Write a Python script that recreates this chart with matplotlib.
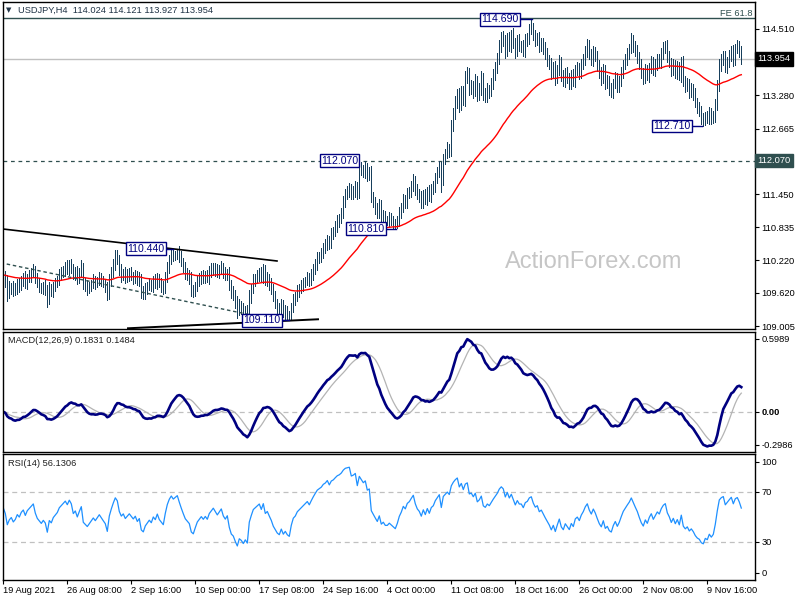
import numpy as np
import pandas as pd
import matplotlib
matplotlib.use("Agg")
import matplotlib.pyplot as plt
import matplotlib.transforms as mtransforms

plt.rcParams['font.family'] = ['Liberation Sans', 'DejaVu Sans']

# USDJPY H4 closes, 19 Aug 2021 00:00 onwards (one value per bar)
close_aug = [109.95, 109.85, 109.6, 109.7, 109.75, 109.65, 109.7, 109.8, 109.75,
             109.85, 109.9, 109.8, 109.9, 109.95, 110.0, 110.05,
             109.9, 109.8, 109.75, 109.7, 109.75, 109.7, 109.5,
             109.7, 109.65, 109.75, 109.8, 109.85,
             109.95, 110.0, 110.05, 110.1, 110.05, 110.15, 110.1,
             109.95, 110.0, 109.9, 110.0, 110.1,
             109.8, 109.75, 109.7, 109.75, 109.8,
             109.85, 109.8, 109.85, 109.9, 109.85, 109.8, 109.75, 109.6,
             109.85, 110.0, 110.15, 110.3, 110.25,
             110.05, 109.95, 110.0, 109.9, 109.95, 110.0, 109.95, 109.9, 109.95, 109.85, 109.9]
close_sep1 = [109.65, 109.6, 109.7, 109.75,
              109.8, 109.75, 109.85, 109.8, 109.9, 109.8, 109.75, 109.7,
              109.9, 110.1, 110.25, 110.35, 110.3, 110.35, 110.4, 110.3,
              110.2, 110.1, 110.0, 109.95, 109.9,
              109.7, 109.65, 109.75,
              109.85, 109.9, 109.95, 109.9, 109.95, 109.9, 110.0, 110.05, 110.1,
              110.05, 110.0, 110.05, 110.1, 110.0, 109.95, 110.0,
              109.8, 109.65, 109.6,
              109.45, 109.3, 109.4, 109.35, 109.25, 109.3, 109.2,
              109.55, 109.7,
              109.85, 109.9, 109.95, 110.0, 109.9, 110.05, 109.85, 109.9, 109.8]
close_sep2 = [109.7, 109.55, 109.45, 109.35, 109.3,
              109.4, 109.25, 109.3, 109.2, 109.15,
              109.35, 109.5, 109.55, 109.65, 109.7, 109.75,
              109.8, 109.85, 109.9, 109.85,
              109.95, 110.05, 110.15, 110.25, 110.3,
              110.35, 110.45, 110.5, 110.6, 110.55, 110.7, 110.75,
              110.85, 110.95, 111.0, 111.1,
              111.3, 111.45, 111.5, 111.55, 111.45, 111.5, 111.6, 111.45,
              111.95,
              111.9, 111.85, 111.95, 111.8, 111.85,
              111.4,
              111.3, 111.2, 111.1, 111.25, 111.0, 111.05, 110.95,
              110.95, 111.0, 110.95, 110.9, 110.85, 110.95,
              111.1, 111.2, 111.35, 111.3, 111.45,
              111.5, 111.6, 111.7, 111.55, 111.45,
              111.4, 111.3, 111.45, 111.35, 111.5, 111.4, 111.55,
              111.6, 111.75, 111.85, 111.95, 111.7]
close_oct = [112.1, 112.2, 112.3, 112.25,
             112.7, 112.95, 113.15,
             113.3, 113.1, 113.35, 113.2,
             113.6, 113.7, 113.4,
             113.45, 113.35, 113.55, 113.3, 113.4,
             113.6, 113.3, 113.25, 113.4, 113.35,
             113.5, 113.65, 113.8,
             113.95, 114.2, 114.35,
             114.3, 114.1, 114.35, 114.2, 114.4, 114.25, 114.1, 114.3, 114.2,
             114.2, 114.1, 114.3, 114.35, 114.5, 114.55,
             114.4, 114.3, 114.35, 114.2, 114.25, 114.15,
             114.05, 113.95, 113.85, 113.7, 113.8,
             113.6, 113.75, 113.9, 113.65, 113.55,
             113.7, 113.6, 113.5, 113.65, 113.55, 113.75, 113.8, 113.7,
             113.85, 113.95, 114.1, 114.2, 114.05, 113.95, 114.1, 114.0, 113.85]
close_nov = [113.7, 113.6, 113.75, 113.5, 113.55, 113.4, 113.35, 113.5, 113.6, 113.45, 113.55,
             113.7, 113.85, 113.95, 114.05,
             114.15, 114.3, 114.2, 114.1, 114.0,
             113.85, 113.7, 113.6, 113.75, 113.65,
             113.8, 113.9, 113.75, 113.85, 113.95, 113.9,
             114.05, 114.15, 114.2, 114.0,
             113.9, 113.75, 113.85, 113.7, 113.8, 113.65, 113.9,
             113.55, 113.45, 113.5, 113.35, 113.4,
             113.3, 113.15, 113.05, 113.0,
             112.85, 112.8, 112.9, 112.85, 112.95, 112.85, 112.9,
             113.1, 113.45,
             113.85, 113.95, 114.0, 113.8, 113.9,
             114.0, 114.1, 113.95, 114.15, 114.2, 114.1,
             113.954]

# wicks above / below the bar body, in pips
wick_up = [12, 8, 10, 14, 6, 9, 11, 7, 10, 8,   9, 12, 6, 10, 8, 11, 7, 9, 10, 6,
           8, 10, 6, 12, 9, 7, 10, 8, 11, 9,    7, 10, 12, 8, 9, 6, 10, 11, 8, 12,
           7, 9, 10, 8, 6, 11, 9, 7, 10, 8,     9, 6, 8, 12, 10, 9, 11, 12, 8, 10,
           7, 9, 11, 8, 10, 6, 9, 8, 10, 7,     9, 11, 8, 10, 6, 9, 12, 8, 7, 10,
           9, 11, 10, 8, 9, 6, 4, 3, 8, 9,      7, 10, 8, 9, 11, 6, 8, 10, 9, 7,
           10, 8, 9, 11, 12, 8, 7, 10, 9, 11,   8, 9, 7, 10, 6, 9, 8, 11, 10, 7,
           9, 8, 10, 12, 9, 11, 7, 10, 8, 9,    11, 8, 10, 7, 9, 8, 10, 6, 9, 11,
           8, 10, 7, 9, 8, 10, 9, 11, 8, 10,    9, 7, 10, 8, 11, 10, 9, 12, 8, 10,
           9, 11, 10, 8, 12, 9, 10, 11, 8, 10,  12, 9, 10, 11, 8, 10, 9, 8, 12, 10,
           9, 11, 8, 10, 12, 9, 10, 8, 11, 9,   10, 8, 9, 11, 10, 9, 8, 10, 11, 9,
           10, 8, 11, 9, 10, 12, 8, 9, 10, 11,  8, 10, 9, 11, 8, 10, 9, 11, 12, 10,
           10, 9, 11, 8, 12, 10, 11, 9, 12, 10, 11, 13, 10, 9, 11, 10, 12, 9, 10, 14,
           9, 11, 10, 8, 10, 11, 9, 12, 10, 11, 12, 10, 9, 11, 10, 12, 9, 10, 11, 9,
           10, 12, 9, 11, 14, 8, 10, 9, 11, 10, 9, 11, 10, 8, 12, 9, 11, 10, 12, 9,
           10, 8, 11, 9, 10, 12, 9, 10, 8, 11,  10, 9, 12, 11, 9, 10, 8, 11, 9, 10,
           11, 9, 10, 8, 10, 9, 11, 10, 9, 10,  8, 10, 11, 9, 13, 10, 9, 11, 8, 10,
           9, 11, 10, 8, 10, 9, 11, 10, 9, 10,  12, 9, 10, 11, 8, 10, 9, 11, 10, 9,
           10, 8, 11, 9, 10, 9, 11, 8, 10, 9,   10, 8, 9, 11, 10, 9, 12, 11, 10, 9,
           11, 10, 9, 12, 10, 11, 9, 10, 8, 9]
wick_dn = [10, 12, 14, 8, 11, 9, 7, 10, 12, 8,  11, 9, 10, 7, 12, 9, 10, 8, 11, 9,
           10, 12, 15, 9, 8, 11, 10, 7, 9, 10,  8, 11, 9, 10, 12, 8, 9, 11, 10, 7,
           11, 9, 12, 8, 10, 9, 11, 8, 9, 10,   8, 11, 12, 9, 10, 8, 11, 9, 10, 12,
           9, 10, 8, 11, 9, 12, 10, 8, 11, 13,  10, 9, 11, 8, 10, 12, 9, 10, 8, 11,
           10, 9, 8, 11, 10, 9, 8, 10, 11, 9,   10, 12, 9, 11, 14, 10, 8, 9, 10, 11,
           9, 10, 8, 11, 9, 10, 12, 8, 10, 9,   11, 9, 10, 12, 13, 11, 12, 15, 10, 12,
           12, 10, 6, 9, 11, 8, 10, 9, 11, 8,   10, 9, 11, 12, 10, 9, 11, 10, 12, 9,
           8, 12, 8, 4, 4, 9, 10, 8, 11, 9,     10, 8, 9, 11, 8, 10, 9, 11, 8, 10,
           9, 10, 8, 11, 10, 9, 8, 10, 11, 9,   10, 8, 9, 11, 10, 9, 11, 10, 8, 10,
           9, 11, 10, 8, 10, 9, 11, 10, 9, 11,  10, 12, 8, 9, 7, 8, 4, 3, 9, 10,
           9, 11, 10, 8, 10, 9, 11, 10, 9, 11,  10, 9, 11, 8, 10, 9, 11, 10, 9, 22,
           9, 10, 8, 11, 10, 9, 11, 10, 12, 9,  10, 11, 9, 12, 10, 11, 9, 12, 10, 11,
           11, 9, 10, 12, 9, 10, 8, 11, 9, 12,  11, 12, 10, 9, 11, 10, 12, 9, 10, 11,
           9, 11, 10, 12, 9, 10, 11, 9, 12, 10, 11, 10, 12, 9, 11, 10, 12, 9, 10, 11,
           10, 12, 9, 11, 10, 9, 11, 10, 12, 9, 9, 10, 11, 9, 10, 12, 9, 11, 10, 12,
           10, 11, 9, 12, 10, 11, 9, 10, 11, 9, 10, 9, 11, 10, 9, 11, 10, 12, 9, 10,
           11, 10, 9, 12, 10, 9, 11, 10, 9, 11, 10, 9, 11, 10, 12, 9, 10, 11, 9, 12,
           10, 11, 9, 12, 10, 11, 9, 10, 11, 10, 9, 7, 9, 10, 11, 8, 12, 10, 9, 11,
           10, 9, 11, 10, 9, 12, 10, 9, 11, 10]

# RSI state carried in from before the first bar (average gain / loss per bar)
rsi_prior_gain, rsi_prior_loss = 0.057, 0.043

date_ticks = [0, 32, 64, 96, 128, 160, 192, 224, 256, 288, 320, 352]
date_labels = ['19 Aug 2021', '26 Aug 08:00', '2 Sep 16:00', '10 Sep 00:00', '17 Sep 08:00',
               '24 Sep 16:00', '4 Oct 00:00', '11 Oct 08:00', '18 Oct 16:00', '26 Oct 00:00',
               '2 Nov 08:00', '9 Nov 16:00']
price_ticks = [114.510, 113.280, 112.665, 111.450, 110.835, 110.220, 109.620, 109.005]

# swing labels: value, bar of the swing, bar where the box ends
swing_vals = [114.690, 112.710, 112.070, 110.810, 110.440, 109.110]
swing_bar = [264.2, 349.4, 178.0, 196.4, 85.0, 143.0]
swing_box_end = [258.4, 344.4, 178.0, 191.4, 81.2, 139.4]

# trendlines (bar, price) pairs
trend_upper = ([-0.15, 136.85], [110.803, 110.210])
trend_lower = ([62.35, 157.35], [108.963, 109.130])
trend_dash = ([1.7, 123.35], [110.154, 109.214])
fe_level = 114.705
last_price = 113.954
support = 112.070

closes = np.array(close_aug + close_sep1 + close_sep2 + close_oct + close_nov)
n = len(closes)
idx = np.arange(n)
opens = np.r_[closes[0], closes[:-1]]
highs = np.maximum(opens, closes) + np.array(wick_up[:n]) / 100
lows = np.minimum(opens, closes) - np.array(wick_dn[:n]) / 100

s = pd.Series(closes)
ema55 = s.ewm(span=55, adjust=False).mean()
macd = s.ewm(span=12, adjust=False).mean() - s.ewm(span=26, adjust=False).mean()
signal = macd.rolling(9, min_periods=1).mean()

# Wilder RSI(14)
chg = np.r_[0.0, np.diff(closes)]
avg_g, avg_l = rsi_prior_gain, rsi_prior_loss
rsi = np.empty(n)
for k in range(n):
    avg_g = (avg_g * 13 + max(chg[k], 0)) / 14
    avg_l = (avg_l * 13 + max(-chg[k], 0)) / 14
    rsi[k] = 100 - 100 / (1 + avg_g / avg_l)

bar_col = '#173f5c'
slate = '#2f4f4f'
navy = '#000080'
fs = 6.7

W, H = 800.0, 600.0
fig = plt.figure(figsize=(8, 6), dpi=100)
fig.patch.set_facecolor('white')
left, width = 3 / W, 751.5 / W
ax1 = fig.add_axes([left, 1 - 328.5 / H, width, 326.5 / H])
ax2 = fig.add_axes([left, 1 - 451.7 / H, width, 120 / H])
ax3 = fig.add_axes([left, 1 - 579.5 / H, width, 125.5 / H])

xlim = (-0.15, 375.6)
for ax in (ax1, ax2, ax3):
    ax.set_xlim(*xlim)
    for sp in ax.spines.values():
        sp.set_color('black')
        sp.set_linewidth(1.0)
    ax.yaxis.tick_right()
    ax.tick_params(axis='y', direction='out', length=3, width=0.8, pad=2,
                   labelsize=fs, colors='black')
    ax.tick_params(axis='x', length=0)
    ax.set_xticks([])

# ---------------- price panel
ax1.set_ylim(108.959, 115.010)
ax1.axhline(fe_level, color=slate, lw=1.0)
ax1.axhline(last_price, color='#c0c0c0', lw=1.0)
ax1.axhline(support, color=slate, lw=0.9, ls=(0, (3, 3)))
ax1.vlines(idx, lows, highs, colors=bar_col, lw=0.72, antialiased=False)
ax1.plot(idx, ema55, color='red', lw=1.0)
ax1.plot(*trend_upper, color='black', lw=1.2)
ax1.plot(*trend_lower, color='black', lw=1.4)
ax1.plot(*trend_dash, color=slate, lw=1.0, ls=(0, (2.5, 2)))
ax1.set_yticks(price_ticks)
ax1.set_yticklabels(['%.3f' % v for v in price_ticks])

for v, b, e in zip(swing_vals, swing_bar, swing_box_end):
    if b > e:
        ax1.plot([e, b], [v, v], color=navy, lw=1.0)
    ax1.text(e - 0.7, v, '%.3f' % v, ha='right', va='center', fontsize=7.6, color=navy,
             bbox=dict(boxstyle='square,pad=0.12', fc='white', ec=navy, lw=1.0))

ax1.text(295, 110.19, 'ActionForex.com', ha='center', va='center', fontsize=17,
         color='#c6c6c6')

trans = mtransforms.blended_transform_factory(ax1.transAxes, ax1.transData)
ax1.text(1.004, last_price, '%.3f' % last_price, transform=trans, ha='left', va='center',
         fontsize=fs, color='white',
         bbox=dict(boxstyle='square,pad=0.25', fc='black', ec='black'))
ax1.text(1.004, support, '%.3f' % support, transform=trans, ha='left', va='center',
         fontsize=fs, color='white',
         bbox=dict(boxstyle='square,pad=0.25', fc=slate, ec=slate))
ax1.text(0.9975, fe_level, 'FE 61.8', transform=trans, ha='right', va='bottom',
         fontsize=fs, color=slate)

fig.text(6 / W, 1 - 10 / H, '\u25bc', fontsize=5, color='#203346', va='center',
         family=['DejaVu Sans'])
fig.text(18 / W, 1 - 10 / H, 'USDJPY,H4  114.024 114.121 113.927 113.954', fontsize=fs,
         color='#203346', va='center')

# ---------------- MACD panel
ax2.set_ylim(-0.2986, 0.5989)
ax2.axhline(0, color='#c0c0c0', lw=0.9, ls=(0, (4, 3)))
ax2.plot(idx, signal, color='#b4b4b4', lw=0.9)
ax2.plot(idx, macd, color=navy, lw=1.9)
ax2.set_yticks([0.5465, 0.0, -0.2462])
ax2.set_yticklabels(['0.5989', '0.00', '-0.2986'])
ax2.get_yticklabels()[1].set_fontweight('bold')
fig.text(8 / W, 1 - 340.7 / H, 'MACD(12,26,9) 0.1831 0.1484', fontsize=fs, color='#202020',
         va='center')

# ---------------- RSI panel
ax3.set_ylim(0, 100)
ax3.axhline(70, color='#c0c0c0', lw=0.9, ls=(0, (4, 3)))
ax3.axhline(30, color='#c0c0c0', lw=0.9, ls=(0, (4, 3)))
ax3.plot(idx, rsi, color='#1e90ff', lw=0.9)
ax3.set_yticks([93.9, 70, 30, 5.4])
ax3.set_yticklabels(['100', '70', '30', '0'])
ax3.set_xticks(date_ticks)
ax3.set_xticklabels(date_labels)
ax3.tick_params(axis='x', direction='out', length=3, width=0.8, pad=1.5, labelsize=fs)
for lab in ax3.get_xticklabels():
    lab.set_ha('left')
fig.text(8 / W, 1 - 464 / H, 'RSI(14) 56.1306', fontsize=fs, color='#202020', va='center')

fig.savefig('out.png', dpi=100, facecolor='white')
